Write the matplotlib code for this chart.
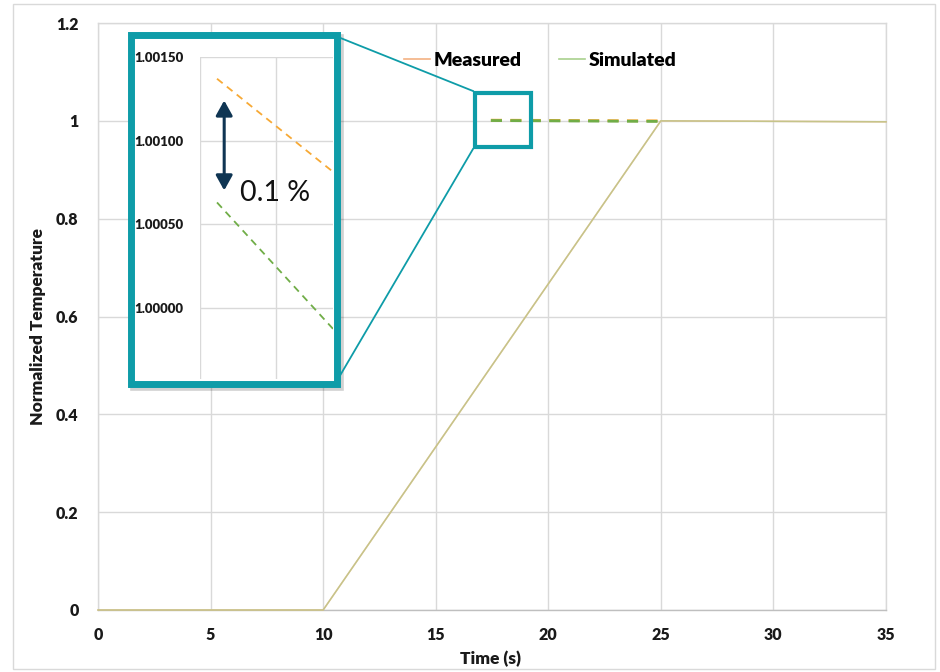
import matplotlib
matplotlib.use("Agg")
import matplotlib.pyplot as plt
from matplotlib.patches import Rectangle, FancyArrowPatch
from matplotlib.lines import Line2D

# ---------------- data ----------------
time_s = [0, 10, 25, 35]
measured = [0.0, 0.0, 1.0, 0.998]
simulated = [0.0, 0.0, 1.0, 0.998]

dash_time = [17.45, 25.0]
dash_measured = [1.00137, 1.00000]
dash_simulated = [1.00063, 0.99877]

x_ticks = [0, 5, 10, 15, 20, 25, 30, 35]
y_ticks = [0, 0.2, 0.4, 0.6, 0.8, 1.0, 1.2]
y_tick_labels = ["0", "0.2", "0.4", "0.6", "0.8", "1", "1.2"]
inset_y_ticks = [1.0000, 1.0005, 1.0010, 1.0015]
inset_x_grid = [17, 19]
series_labels = ["Measured", "Simulated"]
diff_label = "0.1 %"

# ---------------- style ----------------
plt.rcParams['font.family'] = ['Lato', 'DejaVu Sans']
C_MEAS = "#f4b183"
C_SIM = "#a9d18e"
C_MEAS_D = "#f7a935"
C_SIM_D = "#70ad47"
TEAL = "#0e9ca8"
GRID = "#d9d9d9"
NAVY = "#0f3553"
TXT = "#1a1a1a"
BOLD = 'heavy'

W, H = 940, 672
fig = plt.figure(figsize=(9.4, 6.72), dpi=100)


def fx(px):
    return px / W


def fy(py):
    return 1 - py / H


# outer chart border
fig.patches.append(Rectangle((fx(13), fy(669)), fx(935) - fx(13), fy(4) - fy(669),
                             transform=fig.transFigure, fill=False,
                             edgecolor=GRID, lw=1.0, zorder=0))

# ---------------- main axes ----------------
ax = fig.add_axes([fx(98), fy(610), fx(886) - fx(98), fy(23) - fy(610)])
ax.set_zorder(0)
ax.set_xlim(0, 35)
ax.set_ylim(0, 1.2)
ax.set_xticks(x_ticks)
ax.set_yticks(y_ticks)
ax.set_yticklabels(y_tick_labels)
ax.grid(True, color=GRID, lw=1.0)
ax.set_axisbelow(True)
for s in ax.spines.values():
    s.set_color(GRID)
    s.set_linewidth(1.0)
    s.set_zorder(1)
ax.spines['bottom'].set_color("#bfbfbf")
ax.tick_params(length=0, labelsize=11.5)
ax.tick_params(axis='y', pad=14)
ax.tick_params(axis='x', pad=12)
for lab in ax.get_xticklabels() + ax.get_yticklabels():
    lab.set_fontweight(BOLD)
    lab.set_color(TXT)

ax.plot(time_s, measured, color=C_MEAS, lw=1.1, zorder=3, clip_on=False)
ax.plot(time_s, simulated, color=C_SIM, lw=1.1, alpha=0.62, zorder=4, clip_on=False)
ax.plot(dash_time, dash_measured, color=C_MEAS_D, lw=2.0, ls=(0, (4, 3)), zorder=5)
ax.plot(dash_time, dash_simulated, color=C_SIM_D, lw=2.0, ls=(0, (4, 3)), zorder=6)

fig.text(fx(491), fy(659), "Time (s)", ha='center', va='center',
         fontsize=12.5, fontweight=BOLD, color=TXT)
fig.text(fx(38), fy(327), "Normalized Temperature", ha='center', va='center',
         rotation=90, fontsize=12.5, fontweight=BOLD, color=TXT)

# legend
handles = [Line2D([], [], color=C_MEAS, lw=1.2), Line2D([], [], color=C_SIM, lw=1.2)]
fig.legend(handles, series_labels, ncol=2, loc='center',
           bbox_to_anchor=(fx(540), fy(60)), frameon=False,
           prop={'size': 14, 'weight': BOLD}, handlelength=1.35,
           handletextpad=0.2, columnspacing=1.9)

# zoom box on main axes (data coordinates)
zx0, zx1, zy0, zy1 = 16.73, 19.23, 0.9465, 1.0575
ax.add_patch(Rectangle((zx0, zy0), zx1 - zx0, zy1 - zy0, fill=False,
                       edgecolor=TEAL, lw=3.0, zorder=7, clip_on=False))

# inset frame (figure pixels)
fx0, fy0, fx1, fy1 = 130.5, 35.5, 336.5, 383.5
fig.patches.append(Rectangle((fx(fx0 + 3), fy(fy1 + 3)), fx(fx1) - fx(fx0), fy(fy0) - fy(fy1),
                             transform=fig.transFigure, fill=False,
                             edgecolor="#000000", alpha=0.18, lw=5.5, zorder=1))
fig.patches.append(Rectangle((fx(fx0), fy(fy1)), fx(fx1) - fx(fx0), fy(fy0) - fy(fy1),
                             transform=fig.transFigure, facecolor='white',
                             edgecolor=TEAL, lw=5.0, zorder=1.1))

# connector lines
fig.lines.append(Line2D([fx(338), fx(473)], [fy(37), fy(91)], transform=fig.transFigure,
                        color=TEAL, lw=1.3, zorder=1.2))
fig.lines.append(Line2D([fx(338), fx(473)], [fy(379), fy(149)], transform=fig.transFigure,
                        color=TEAL, lw=1.3, zorder=1.2))

# ---------------- inset axes ----------------
ix0, ix1, iy0, iy1 = 200, 333, 57, 379
axi = fig.add_axes([fx(ix0), fy(iy1), fx(ix1) - fx(ix0), fy(iy0) - fy(iy1)])
axi.set_zorder(2)
axi.patch.set_alpha(0)
axi.set_xlim(17, 17 + (ix1 - ix0) / 37.8)
axi.set_ylim(0.999574, 1.0015)
axi.set_xticks(inset_x_grid)
axi.set_xticklabels([])
axi.set_yticks(inset_y_ticks)
axi.set_yticklabels([f"{v:.5f}" for v in inset_y_ticks])
axi.grid(True, color=GRID, lw=1.0)
axi.set_axisbelow(True)
for s in axi.spines.values():
    s.set_visible(False)
axi.tick_params(length=0, labelsize=9.5, pad=12)
axi.tick_params(axis='x', labelbottom=False)
for lab in axi.get_yticklabels():
    lab.set_fontweight(BOLD)
    lab.set_color(TXT)

axi.plot(dash_time, dash_measured, color=C_MEAS_D, lw=1.3, ls=(0, (4, 3)))
axi.plot(dash_time, dash_simulated, color=C_SIM_D, lw=1.3, ls=(0, (4, 3)))

# difference arrow and label
arr = FancyArrowPatch((17.64, 1.000702), (17.64, 1.00124),
                      arrowstyle='<|-|>,head_length=9,head_width=5',
                      color=NAVY, lw=2.2, mutation_scale=1, shrinkA=0, shrinkB=0,
                      clip_on=False, zorder=5)
axi.add_patch(arr)
axi.text(18.07, 1.000637, diff_label, fontsize=20.5, color="#111111",
         ha='left', va='baseline', clip_on=False, zorder=5)

fig.savefig("out.png", dpi=100, facecolor='white')
